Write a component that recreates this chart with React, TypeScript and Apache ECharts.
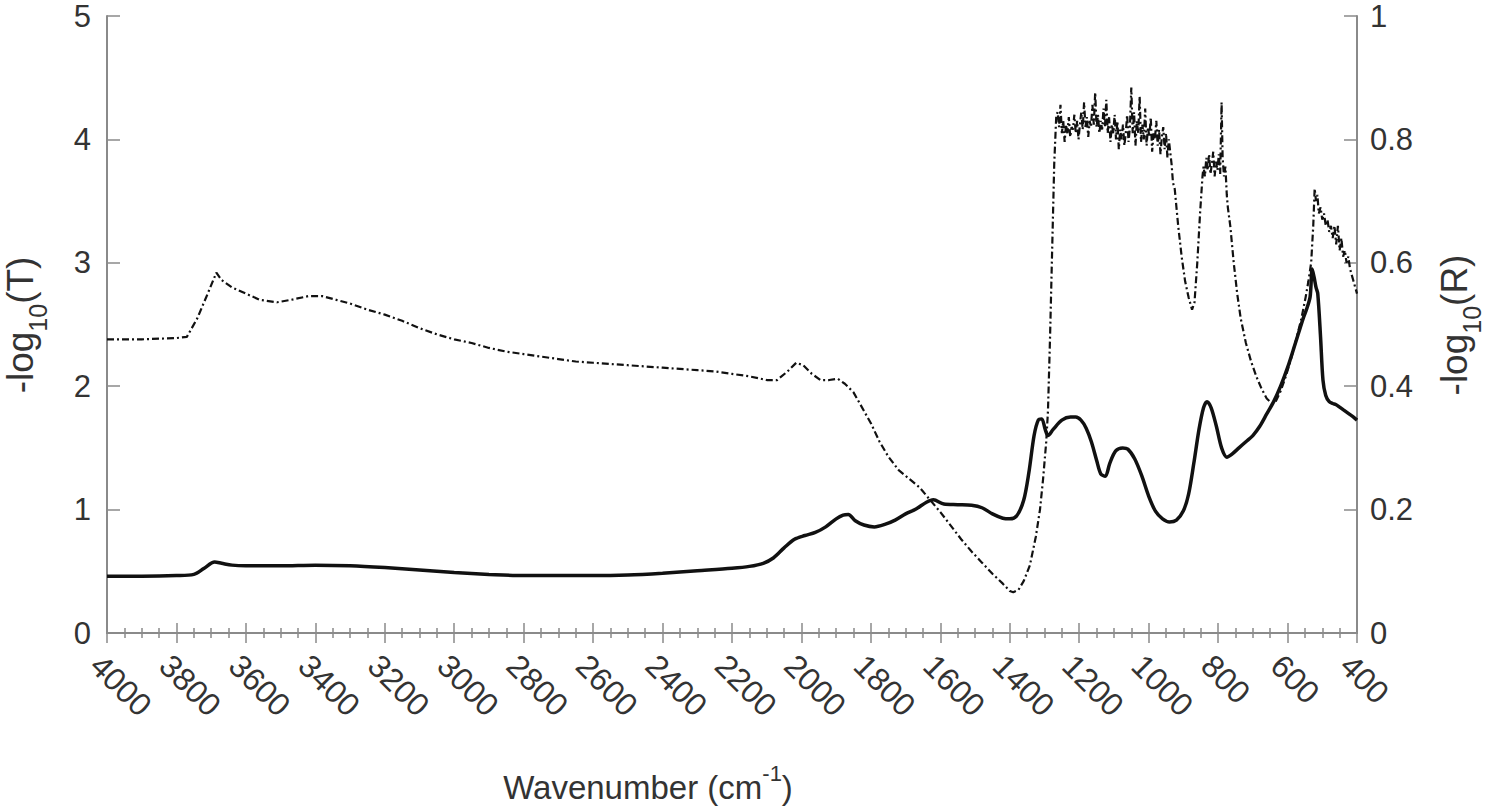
import React, { useEffect, useRef } from "react";
import * as echarts from "echarts";

// -log10(T) (dash-dot, left axis)
const tWn = [
  4000, 3900, 3800, 3770, 3740, 3710, 3685, 3670, 3640, 3600, 3560, 3510, 3470, 3420, 3380, 3340, 3300, 3250, 3200, 3150,
  3100, 3050, 3000, 2950, 2900, 2850, 2800, 2750, 2700, 2650, 2600, 2550, 2500, 2450, 2400, 2350, 2300, 2250, 2200, 2150,
  2100, 2070, 2040, 2015, 1995, 1970, 1945, 1920, 1895, 1875, 1850, 1830, 1800, 1775, 1750, 1720, 1690, 1660, 1630, 1600,
  1570, 1540, 1510, 1480, 1450, 1420, 1400, 1390, 1375, 1360, 1342, 1325, 1313, 1304, 1295, 1290, 1284, 1278, 1272, 1266,
  1262, 1258, 1254, 1250, 1246, 1242, 1238, 1234, 1230, 1226, 1222, 1218, 1214, 1210, 1206, 1202, 1198, 1194, 1190, 1186,
  1182, 1178, 1174, 1170, 1166, 1162, 1158, 1154, 1150, 1146, 1142, 1138, 1134, 1130, 1126, 1122, 1118, 1114, 1110, 1106,
  1102, 1098, 1094, 1090, 1086, 1082, 1078, 1074, 1070, 1066, 1062, 1058, 1054, 1050, 1046, 1042, 1038, 1034, 1030, 1026,
  1022, 1018, 1014, 1010, 1006, 1002, 998, 994, 990, 986, 982, 978, 974, 970, 966, 962, 958, 954, 950, 946,
  942, 938, 934, 930, 925, 915, 905, 895, 885, 875, 868, 860, 852, 845,
  842, 838, 834, 830, 826, 822, 818, 814, 810, 806, 802, 798, 794, 790, 787, 783, 779, 775,
  772, 765, 755, 745, 735, 720, 705, 690, 675, 660, 645, 635, 620, 605, 590, 575, 560, 548, 540, 532, 526, 522,
  518, 514, 510, 505, 500, 495, 490, 485, 480, 475, 470, 465, 460, 455, 450, 445, 440, 435, 430, 425, 420, 415, 410, 405, 400,
];
const tVal = [
  2.38, 2.38, 2.39, 2.4, 2.55, 2.75, 2.92, 2.86, 2.8, 2.75, 2.7, 2.68, 2.7, 2.73, 2.73, 2.7, 2.67, 2.62, 2.58, 2.53,
  2.47, 2.42, 2.38, 2.35, 2.31, 2.28, 2.26, 2.24, 2.22, 2.2, 2.19, 2.18, 2.17, 2.16, 2.15, 2.14, 2.13, 2.12, 2.1, 2.08,
  2.05, 2.05, 2.12, 2.19, 2.17, 2.1, 2.05, 2.05, 2.06, 2.02, 1.95, 1.85, 1.7, 1.55, 1.43, 1.32, 1.25, 1.18, 1.08, 0.98,
  0.87, 0.76, 0.66, 0.57, 0.48, 0.4, 0.34, 0.33, 0.35, 0.42, 0.55, 0.78, 1.0, 1.25, 1.55, 1.8, 2.4, 3.1, 3.8, 4.2,
  4.22, 4.1, 4.28, 4.05, 4.15, 3.98, 4.12, 4.05, 4.18, 4.02, 4.1, 4.08, 4.2, 4.05, 4.15, 4.0, 4.12, 4.22, 4.08, 4.3,
  4.1, 4.18, 4.02, 4.15, 4.1, 4.28, 4.12, 4.38, 4.1, 4.2, 4.05, 4.15, 4.08, 4.25, 4.1, 4.32, 4.05, 4.18, 3.98, 4.12,
  4.05, 4.2, 4.0, 4.15, 3.92, 4.08, 4.0, 4.12, 3.95, 4.05, 4.2, 3.98, 4.1, 4.42, 4.05, 4.22, 3.95, 4.15, 4.05, 4.35,
  3.98, 4.12, 4.0, 4.25, 3.95, 4.1, 4.02, 4.18, 3.9, 4.05, 4.0, 4.15, 3.95, 4.08, 3.88, 4.02, 4.1, 3.92, 4.05, 3.85,
  4.0, 3.9, 3.8, 3.65, 3.6, 3.3, 3.05, 2.85, 2.72, 2.62, 2.68, 3.0, 3.4, 3.7,
  3.78, 3.7, 3.85, 3.75, 3.88, 3.72, 3.8, 3.9, 3.7, 3.82, 3.75, 3.88, 3.72, 4.3, 3.85, 3.7, 3.78, 3.55,
  3.45, 3.3, 3.0, 2.75, 2.55, 2.35, 2.2, 2.08, 1.98, 1.9, 1.86, 1.87, 1.96, 2.08, 2.22, 2.38, 2.55, 2.72, 2.85, 3.0, 3.3, 3.6,
  3.5, 3.55, 3.4, 3.45, 3.35, 3.4, 3.3, 3.35, 3.25, 3.3, 3.2, 3.3, 3.15, 3.3, 3.1, 3.2, 3.05, 3.1, 3.0, 3.05, 2.95, 2.9, 2.85, 2.8, 2.75,
];

// -log10(R) (solid, right axis)
const rWn = [
  4000, 3900, 3800, 3750, 3720, 3690, 3670, 3640, 3600, 3500, 3400, 3300, 3200, 3100, 3000, 2900, 2800, 2700, 2600, 2500,
  2400, 2300, 2200, 2150, 2110, 2080, 2050, 2020, 1990, 1960, 1930, 1900, 1880, 1865, 1845, 1820, 1790, 1760, 1730, 1700,
  1670, 1640, 1620, 1590, 1550, 1510, 1480, 1450, 1420, 1400, 1380, 1360, 1345, 1330, 1318, 1308, 1298, 1290, 1275, 1250,
  1225, 1210, 1195, 1180, 1165, 1150, 1138, 1125, 1112, 1095, 1075, 1060, 1040, 1020, 1000, 980, 960, 940, 920, 900,
  885, 870, 855, 842, 832, 820, 805, 790, 775, 760, 740, 720, 700, 680, 660, 640, 620, 600, 580, 555,
  545, 535, 529, 523, 518, 513, 505, 498, 490, 480, 470, 460, 450, 440, 430, 420, 410, 400,
];
const rVal = [
  0.092, 0.092, 0.093, 0.095, 0.105, 0.115, 0.113, 0.11, 0.109, 0.109, 0.11, 0.109, 0.106, 0.102, 0.098, 0.095, 0.093, 0.093, 0.093, 0.094,
  0.097, 0.101, 0.105, 0.108, 0.113, 0.122, 0.138, 0.152, 0.158, 0.163, 0.172, 0.185, 0.191, 0.192, 0.182, 0.175, 0.172, 0.176, 0.183, 0.193,
  0.201, 0.212, 0.216, 0.209, 0.208, 0.207, 0.203, 0.193, 0.186, 0.185, 0.19, 0.215, 0.26, 0.32, 0.345, 0.347, 0.33, 0.32, 0.33, 0.345,
  0.35, 0.35, 0.345, 0.332, 0.31, 0.28, 0.258, 0.254, 0.275, 0.295, 0.3, 0.298, 0.282, 0.255, 0.222, 0.197, 0.185, 0.18, 0.183, 0.198,
  0.225, 0.275, 0.33, 0.365, 0.375, 0.365, 0.335, 0.3, 0.285, 0.29, 0.3, 0.31, 0.32, 0.335, 0.355, 0.375, 0.4, 0.43, 0.465, 0.51,
  0.525, 0.545, 0.59, 0.575, 0.56, 0.55, 0.48, 0.41, 0.385, 0.375, 0.372, 0.37, 0.366, 0.362, 0.358, 0.354, 0.35, 0.345,
];

const leftTicks = [0, 1, 2, 3, 4, 5];
const rightTicks = [0, 0.2, 0.4, 0.6, 0.8, 1];
const leftTitle = ["-log", "10", "(T)"];
const rightTitle = ["-log", "10", "(R)"];
const xTitle = ["Wavenumber (cm", "-1", ")"];

const FONT_NAME = "Liberation Sans";
const FONT = "'Liberation Sans', Arial, Helvetica, sans-serif";
const TEXT = "#333333";
const AXIS = "#8a8a8a";

function measure(text: string, size: number): number {
  const c = document.createElement("canvas").getContext("2d");
  if (!c) return text.length * size * 0.55;
  c.font = `${size}px '${FONT_NAME}'`;
  return c.measureText(text).width;
}

// Rotated (reading upward) title with a subscript, built from graphic texts
function verticalTitle(parts: string[], cx: number, cy: number, main: number, sub: number, subShift: number) {
  const w0 = measure(parts[0], main);
  const w1 = measure(parts[1], sub);
  const w2 = measure(parts[2], main);
  const total = w0 + w1 + w2;
  const start = -total / 2;
  const mk = (text: string, x: number, y: number, size: number) => ({
    type: "text",
    x,
    y,
    style: { text, fill: TEXT, fontSize: size, fontFamily: FONT, align: "left", verticalAlign: "middle" },
  });
  return {
    type: "group",
    x: cx,
    y: cy,
    rotation: Math.PI / 2,
    children: [
      mk(parts[0], start, 0, main),
      mk(parts[1], start + w0, subShift, sub),
      mk(parts[2], start + w0 + w1, 0, main),
    ],
  };
}

function horizontalTitle(parts: string[], cx: number, cy: number, main: number, sup: number, supShift: number) {
  const w0 = measure(parts[0], main);
  const w1 = measure(parts[1], sup);
  const w2 = measure(parts[2], main);
  const start = cx - (w0 + w1 + w2) / 2;
  const mk = (text: string, x: number, y: number, size: number) => ({
    type: "text",
    x,
    y,
    style: { text, fill: TEXT, fontSize: size, fontFamily: FONT, align: "left", verticalAlign: "middle" },
  });
  return {
    type: "group",
    children: [
      mk(parts[0], start, cy, main),
      mk(parts[1], start + w0, cy - supShift, sup),
      mk(parts[2], start + w0 + w1, cy, main),
    ],
  };
}

export default function App() {
  const ref = useRef<HTMLDivElement>(null);
  useEffect(() => {
    if (!ref.current) return;
    const chart = echarts.init(ref.current, undefined, { renderer: "svg" });
    const tData = tWn.map((w, i) => [w, tVal[i]]);
    const rData = rWn.map((w, i) => [w, rVal[i]]);
    const xCommon = {
      type: "value" as const,
      min: 400,
      max: 4000,
      interval: 200,
      inverse: true,
      axisLine: { show: true, lineStyle: { color: AXIS, width: 2 } },
      axisTick: { show: true, inside: true, length: 10, lineStyle: { color: AXIS, width: 1.5 } },
      minorTick: { show: true, splitNumber: 4, length: 5, lineStyle: { color: AXIS, width: 1.5 } },
      splitLine: { show: false },
      minorSplitLine: { show: false },
    };
    chart.setOption({
      animation: false,
      backgroundColor: "#ffffff",
      grid: { left: 107, right: 143, top: 16, bottom: 179, containLabel: false },
      xAxis: [
        {
          ...xCommon,
          position: "bottom",
          axisLabel: {
            show: true,
            rotate: -45,
            align: "left",
            verticalAlign: "top",
            margin: 16,
            fontSize: 32,
            color: TEXT,
            fontFamily: FONT,
            showMinLabel: true,
            showMaxLabel: true,
            hideOverlap: false,
            formatter: (v: number) => String(v),
          },
        },
        {
          ...xCommon,
          position: "top",
          axisLabel: { show: false },
        },
      ],
      yAxis: [
        {
          type: "value",
          min: leftTicks[0],
          max: leftTicks[leftTicks.length - 1],
          interval: 1,
          position: "left",
          axisLine: { show: true, lineStyle: { color: AXIS, width: 2 } },
          axisTick: { show: true, inside: true, length: 13, lineStyle: { color: AXIS, width: 1.5 } },
          splitLine: { show: false },
          axisLabel: { fontSize: 31, color: TEXT, fontFamily: FONT, margin: 16 },
        },
        {
          type: "value",
          min: rightTicks[0],
          max: rightTicks[rightTicks.length - 1],
          interval: 0.2,
          position: "right",
          axisLine: { show: true, lineStyle: { color: AXIS, width: 2 } },
          axisTick: { show: true, inside: true, length: 13, lineStyle: { color: AXIS, width: 1.5 } },
          splitLine: { show: false },
          axisLabel: {
            fontSize: 31,
            color: TEXT,
            fontFamily: FONT,
            margin: 13,
            formatter: (v: number) => (v === 0 || v === 1 ? String(v) : v.toFixed(1)),
          },
        },
      ],
      graphic: [
        verticalTitle(leftTitle, 20, 325, 37, 25, 18),
        verticalTitle(rightTitle, 1454, 325, 37, 25, 18),
        horizontalTitle(xTitle, 648, 787, 33, 22, 14),
      ],
      series: [
        {
          type: "line",
          name: "-log10(T)",
          xAxisIndex: 0,
          yAxisIndex: 0,
          data: tData,
          showSymbol: false,
          symbol: "none",
          lineStyle: { color: "#111111", width: 2.2, type: [7, 3, 2, 3] },
          z: 3,
        },
        {
          type: "line",
          name: "-log10(R)",
          xAxisIndex: 0,
          yAxisIndex: 1,
          data: rData,
          showSymbol: false,
          symbol: "none",
          smooth: 0.3,
          lineStyle: { color: "#111111", width: 3.5, type: "solid" },
          z: 2,
        },
      ],
    });
    return () => chart.dispose();
  }, []);
  return <div ref={ref} style={{ width: 1500, height: 812, position: "absolute", left: 0, top: 0 }} />;
}
